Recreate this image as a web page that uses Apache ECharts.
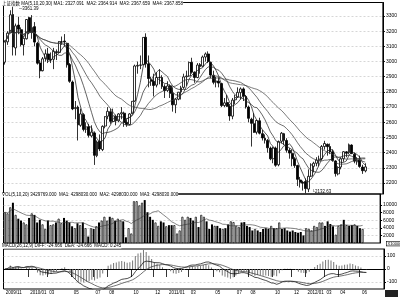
<!DOCTYPE html>
<html><head><meta charset="utf-8">
<script src="https://cdn.jsdelivr.net/npm/echarts@6/dist/echarts.min.js"></script>
<style>html,body{margin:0;padding:0;background:#fff}#c{width:400px;height:298px}</style>
</head><body><div id="c"></div>
<script>
// ---- data (weekly) ----
const dates = ['2009-11-06','2009-11-13','2009-11-20','2009-11-27','2009-12-04','2009-12-11','2009-12-18','2009-12-25','2009-12-31',
'2010-01-08','2010-01-15','2010-01-22','2010-01-29','2010-02-05','2010-02-12','2010-02-26','2010-03-05','2010-03-12','2010-03-19','2010-03-26','2010-04-02','2010-04-09','2010-04-16','2010-04-23','2010-04-30','2010-05-07','2010-05-14','2010-05-21','2010-05-28','2010-06-04','2010-06-11','2010-06-18','2010-06-25','2010-07-02','2010-07-09','2010-07-16','2010-07-23','2010-07-30','2010-08-06','2010-08-13','2010-08-20','2010-08-27','2010-09-03','2010-09-10','2010-09-17','2010-09-21','2010-09-30','2010-10-08','2010-10-15','2010-10-22','2010-10-29','2010-11-05','2010-11-12','2010-11-19','2010-11-26','2010-12-03','2010-12-10','2010-12-17','2010-12-24','2010-12-31',
'2011-01-07','2011-01-14','2011-01-21','2011-01-28','2011-02-01','2011-02-11','2011-02-18','2011-02-25','2011-03-04','2011-03-11','2011-03-18','2011-03-25','2011-04-01','2011-04-08','2011-04-15','2011-04-22','2011-04-29','2011-05-06','2011-05-13','2011-05-20','2011-05-27','2011-06-03','2011-06-10','2011-06-17','2011-06-24','2011-07-01','2011-07-08','2011-07-15','2011-07-22','2011-07-29','2011-08-05','2011-08-12','2011-08-19','2011-08-26','2011-09-02','2011-09-09','2011-09-16','2011-09-23','2011-09-30','2011-10-14','2011-10-21','2011-10-28','2011-11-04','2011-11-11','2011-11-18','2011-11-25','2011-12-02','2011-12-09','2011-12-16','2011-12-23','2011-12-30',
'2012-01-06','2012-01-13','2012-01-20','2012-02-03','2012-02-10','2012-02-17','2012-02-24','2012-03-02','2012-03-09','2012-03-16','2012-03-23','2012-03-30','2012-04-06','2012-04-13','2012-04-20','2012-04-27','2012-05-04','2012-05-11','2012-05-18','2012-05-25','2012-06-01','2012-06-08','2012-06-15'];

const opens = [2996,3130,3190,3310,3090,3240,3210,3110,3150,
3289,3190,3230,3120,2990,2940,3020,3050,3010,3015,3065,3060,3130,3135,3120,2980,2865,2690,2700,2580,2650,2555,2570,2510,2530,2380,2475,2420,2575,2640,2670,2605,2640,2610,2655,2660,2600,2585,2660,2740,2970,2975,2980,3160,2985,2880,2870,2845,2895,2895,2835,
2810,2840,2790,2715,2752,2800,2830,2900,2905,2995,2930,2895,2980,2970,3030,3050,2995,2910,2865,2870,2855,2710,2730,2705,2640,2748,2765,2795,2820,2770,2700,2620,2590,2535,2610,2525,2495,2480,2430,2360,2430,2320,2475,2525,2480,2415,2395,2360,2315,2220,2205,
2210,2160,2245,2310,2330,2350,2360,2440,2455,2440,2405,2345,2260,2305,2360,2405,2400,2450,2390,2340,2350,2305,2280];
const highs = [3140,3200,3338,3361.39,3250,3295,3225,3160,3280,
3295,3306,3260,3130,3010,3030,3080,3090,3060,3090,3080,3135,3165,3181,3125,2990,2875,2740,2710,2690,2660,2600,2590,2580,2540,2480,2520,2580,2640,2700,2690,2690,2650,2660,2700,2670,2620,2660,2740,2980,3000,3040,3160,3186,3040,2900,2920,2930,2950,2910,2850,
2870,2850,2830,2760,2800,2840,2920,2940,3000,3025,2935,2990,2990,3040,3060,3067,3000,2940,2900,2895,2860,2760,2780,2720,2760,2780,2830,2830,2830,2780,2710,2630,2660,2615,2630,2550,2520,2490,2440,2440,2440,2480,2536,2530,2495,2430,2420,2370,2320,2240,2215,
2230,2290,2330,2340,2370,2380,2450,2478,2460,2460,2420,2350,2310,2370,2410,2410,2460,2455,2400,2370,2380,2320,2330];
const lows = [2980,3110,3185,3040,3040,3180,3100,3040,3145,
3180,3150,3100,2980,2890,2935,3000,2990,2990,2950,3010,3055,3110,3100,2960,2860,2680,2620,2480,2570,2540,2530,2500,2500,2319,2370,2410,2410,2560,2620,2590,2600,2580,2600,2620,2570,2570,2580,2655,2735,2920,2950,2975,2960,2830,2840,2770,2830,2850,2820,2760,
2800,2760,2670,2660,2745,2750,2820,2840,2900,2920,2860,2890,2920,2965,3000,2990,2890,2850,2830,2830,2700,2700,2700,2610,2620,2720,2760,2750,2740,2690,2600,2440,2530,2520,2520,2480,2460,2400,2350,2330,2307,2310,2460,2450,2400,2360,2310,2300,2180,2170,2150,
2132.63,2140,2240,2270,2310,2310,2350,2420,2380,2390,2340,2242,2250,2290,2340,2370,2390,2390,2330,2320,2300,2260,2270];
const closes = [3129,3187,3308,3096,3235,3213,3112,3153,3277,
3196,3224,3128,2989,2939,3018,3051,3013,3014,3068,3059,3131,3130,3130,2979,2870,2688,2697,2583,2655,2553,2569,2514,2535,2382,2470,2424,2573,2637,2672,2606,2642,2610,2655,2663,2598,2585,2655,2738,2971,2975,2978,3159,2985,2888,2871,2842,2895,2896,2835,2808,
2839,2791,2715,2752,2798,2827,2899,2905,2993,2930,2895,2977,2967,3030,3050,3000,2911,2863,2871,2858,2710,2728,2705,2642,2746,2762,2797,2820,2772,2701,2626,2593,2534,2612,2528,2497,2482,2432,2359,2431,2317,2473,2528,2481,2416,2397,2360,2315,2224,2205,2199,
2163,2244,2319,2330,2351,2357,2440,2460,2439,2404,2349,2262,2302,2359,2406,2396,2452,2394,2344,2349,2309,2281,2306];
const volumes = [8100,7800,9400,10600,7400,6400,5900,5400,4900,6600,7800,7400,5400,6100,4900,3700,5900,4700,4900,5400,6400,5200,6600,5900,5400,4400,3900,5200,4700,5400,3900,
1700,
3900,3700,4400,5400,5900,6900,5900,6900,6600,5900,6400,5900,5700,
1500,
3900,2500,11000,11000,9900,10600,11300,8100,6900,6100,5400,4500,5700,5400,4400,4700,4700,4700,
2500,3300,
6900,6100,6900,6600,5900,6900,4200,7400,6900,5700,3700,4900,4500,4500,3900,3700,3900,4900,5700,5500,4500,4200,5400,5500,4500,4200,3300,3700,3300,2900,3700,3900,3700,4500,3900,3900,5400,3700,3900,3300,3000,3300,2900,2700,2900,
2000,
3900,3700,3300,4500,4200,5400,5400,4500,5700,5000,4400,
2200,
4500,4900,6100,4700,4500,4700,4900,4500,3900,3700];

// tick labels
const monthTicks = [['2009-11','2009/11'],['2010-01','2010/01'],['2010-03','03'],['2010-05','05'],['2010-07','07'],['2010-08','08'],['2010-10','10'],['2010-12','12'],
['2011-01','2011/01'],['2011-03','03'],['2011-05','05'],['2011-07','07'],['2011-08','08'],['2011-10','10'],['2011-12','12'],
['2012-01','2012/01'],['2012-03','03'],['2012-04','04'],['2012-06','06']];
const priceTicks = [2200,2300,2400,2500,2600,2700,2800,2900,3000,3100,3200,3300];
const volTicks = [2000,4000,6000,8000,10000];
const macdTicks = [-100,0,100];

const priceHeader = '上证指数 MA(5,10,20,30) MA1: 2327.091  MA2: 2364.914  MA3: 2367.659  MA4: 2367.858';
const volHeader = 'VOL(5,10,20) 3429769.000  MA1: 4298030.000  MA2: 4298030.000  MA3: 4298030.000';
const macdHeader = 'MACD(26,12,9) DIFF: -24.666  DEA: -24.666  MACD: 0.245';

// ---- derived indicators ----
function ma(arr, n) {
  return arr.map((_, i) => { const s = Math.max(0, i - n + 1); let t = 0; for (let k = s; k <= i; k++) t += arr[k]; return +(t / (i - s + 1)).toFixed(2); });
}
function ema(arr, n) { const a = 2 / (n + 1); let e = arr[0]; return arr.map(v => (e = e + a * (v - e))); }
const e12 = ema(closes, 12), e26 = ema(closes, 26);
const diff = closes.map((_, i) => +(e12[i] - e26[i]).toFixed(2));
const dea = ema(diff, 9).map(v => +v.toFixed(2));
const hist = diff.map((d, i) => +(2 * (d - dea[i])).toFixed(2));

const N = dates.length, PAD = 6;
const cats = dates.concat(Array.from({length: PAD}, (_, i) => '_pad' + i));
const tickIdx = {};
monthTicks.forEach(([ym, t]) => { const i = dates.findIndex(d => d.startsWith(ym)); if (i >= 0) tickIdx[i] = t; });
const showTick = (i) => tickIdx[i] !== undefined;

const candle = dates.map((_, i) => [opens[i], closes[i], lows[i], highs[i]]);
const volData = volumes.map((v, i) => ({
  value: v,
  itemStyle: closes[i] >= opens[i] ? {color: '#fff', borderColor: '#000', borderWidth: 0.7} : {color: '#000'}
}));
const iMax = highs.indexOf(Math.max(...highs));
const iMin = lows.indexOf(Math.min(...lows));

const FONT = 'Liberation Sans, Noto Sans CJK SC, sans-serif';
const L = 3.5, R = 15.5;
const grids = [
  {left: L, right: R, top: 2.5, height: 191.5},
  {left: L, right: R, top: 194, height: 49},
  {left: L, right: R, top: 249, height: 40}
].map(g => Object.assign(g, {show: true, borderColor: '#000', borderWidth: 1}));

const split = {show: true, lineStyle: {color: '#bbb', type: [2, 2], width: 0.6}};
function yAx(gi, min, max, ticks) {
  return {
    type: 'value', gridIndex: gi, position: 'right', min: min, max: max, scale: true,
    axisLine: {show: true, lineStyle: {color: '#000', width: 1}},
    axisTick: {show: true, length: 2, customValues: ticks, lineStyle: {color: '#000'}},
    axisLabel: {show: true, customValues: ticks, formatter: v => String(v), fontSize: 5, color: '#000', margin: 3, fontFamily: FONT},
    splitLine: split
  };
}
const lineS = (name, data, xi, yi, w, c) => ({type: 'line', name, data, xAxisIndex: xi, yAxisIndex: yi, symbol: 'none', showSymbol: false,
  lineStyle: {width: w, color: c}, silent: true, z: 3});

const option = {
  animation: false,
  backgroundColor: '#fff',
  textStyle: {fontFamily: FONT},
  grid: grids,
  xAxis: [0, 1, 2].map(g => ({
    type: 'category', gridIndex: g, data: cats, boundaryGap: true,
    axisLine: {show: g === 2, lineStyle: {color: '#000'}},
    axisTick: {show: g === 2, interval: showTick, length: 8, lineStyle: {color: '#000', width: 0.8}},
    axisLabel: {show: g === 2, interval: showTick, formatter: (v, i) => tickIdx[i] || '', fontSize: 4.5, color: '#000', align: 'left', margin: 2, padding: [0, 0, 0, 1]},
    splitLine: {show: false}
  })),
  yAxis: [yAx(0, 2127.5, 3389, priceTicks), yAx(1, 0, 12900, volTicks), yAx(2, -153.8, 153.8, macdTicks)],
  series: [
    {type: 'candlestick', name: 'K', data: candle, xAxisIndex: 0, yAxisIndex: 0, barWidth: 2.4,
     itemStyle: {color: '#fff', color0: '#000', borderColor: '#000', borderColor0: '#000', borderWidth: 0.8},
     markPoint: {symbol: 'rect', symbolSize: [0.1, 0.1], silent: true, z: 20,
       data: [
         {coord: [dates[iMax], highs[iMax]], value: highs[iMax], label: {position: 'right', offset: [1, 2], formatter: p => '─' + p.value.toFixed(2)}},
         {coord: [dates[iMin], lows[iMin]], value: lows[iMin], label: {position: 'right', offset: [1, -1], formatter: p => '└' + p.value.toFixed(2)}}
       ],
       label: {show: true, fontSize: 4.5, color: '#000'}
     }},
    lineS('MA5', ma(closes, 5), 0, 0, 0.7, '#111'),
    lineS('MA10', ma(closes, 10), 0, 0, 0.7, '#222'),
    lineS('MA20', ma(closes, 20), 0, 0, 0.7, '#333'),
    lineS('MA30', ma(closes, 30), 0, 0, 0.7, '#444'),
    {type: 'bar', name: 'VOL', data: volData, xAxisIndex: 1, yAxisIndex: 1, barWidth: 2, silent: true},
    lineS('VMA10', ma(volumes, 10), 1, 1, 0.6, '#333'),
    {type: 'bar', name: 'MACD', data: hist, xAxisIndex: 2, yAxisIndex: 2, barWidth: 0.8, itemStyle: {color: '#777'}, silent: true},
    lineS('DIFF', diff, 2, 2, 0.7, '#000'),
    lineS('DEA', dea, 2, 2, 0.7, '#333')
  ],
  graphic: [
    {type: 'text', left: 2, top: 1.5, z: 10, style: {text: priceHeader, font: '4.5px ' + FONT, fill: '#000', backgroundColor: '#fff'}},
    {type: 'text', left: 2, top: 193, z: 10, style: {text: volHeader, font: '4.5px ' + FONT, fill: '#000', backgroundColor: '#fff'}},
    {type: 'text', left: 2, top: 244, z: 10, style: {text: macdHeader, font: '4.5px ' + FONT, fill: '#000', backgroundColor: '#fff'}},
    {type: 'text', left: 386, top: 241, z: 10, style: {text: 'X10000', font: '4px ' + FONT, fill: '#000', backgroundColor: '#fff', borderColor: '#000', borderWidth: 0.6, padding: [0, 1]}},
    {type: 'rect', left: 385, top: 290, z: 10, shape: {width: 13, height: 7}, style: {fill: '#222'}}
  ]
};
const chart = echarts.init(document.getElementById('c'), null, {renderer: 'canvas', width: 400, height: 298});
chart.setOption(option);
</script>
</body></html>
